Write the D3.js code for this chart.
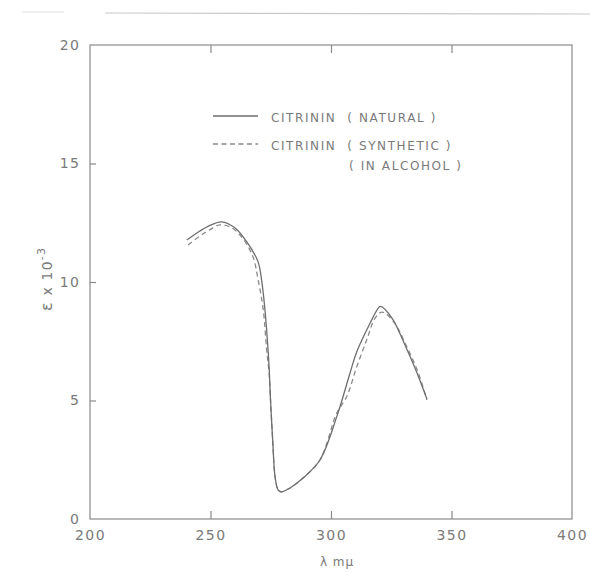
<!DOCTYPE html>
<html>
<head>
<meta charset="utf-8">
<script src="https://cdn.jsdelivr.net/npm/d3@7/dist/d3.min.js"></script>
<style>
  html, body { margin: 0; padding: 0; background: #fff; }
  svg text { font-family: "DejaVu Sans", "Liberation Sans", sans-serif; fill: #7a7a7a; }
</style>
</head>
<body>
<svg id="chart" width="590" height="573"></svg>
<script>
// Absorption spectrum of citrinin: wavelength (mμ) vs ε × 10⁻³
const naturalLambda = [240.2, 245.6, 250.0, 254.6, 260.2, 265.0, 269.7, 271.2, 272.6, 273.6, 274.3, 274.9, 275.8, 276.8, 278.1, 279.5, 283.0, 288.4, 295.4, 302.4, 307.9, 310.7, 316.2, 319.6, 320.5, 325.3, 330.7, 335.7, 339.8];
const naturalEps    = [11.77, 12.15, 12.40, 12.54, 12.28, 11.70, 10.86, 10.08, 8.82, 7.55, 6.43, 5.02, 3.33, 1.78, 1.22, 1.15, 1.31, 1.73, 2.49, 4.32, 6.16, 7.06, 8.26, 8.90, 8.97, 8.48, 7.34, 6.16, 5.06];

const syntheticLambda = [240.7, 245.6, 250.0, 253.9, 258.5, 262.9, 267.6, 269.8, 271.9, 273.3, 274.3, 274.9, 275.8, 276.8, 278.1, 279.5, 283.0, 288.4, 295.4, 302.4, 306.5, 310.7, 314.8, 318.3, 321.2, 326.1, 331.1, 336.1, 339.8];
const syntheticEps    = [11.56, 11.94, 12.22, 12.41, 12.30, 11.91, 11.07, 10.08, 8.82, 7.13, 6.20, 5.02, 3.33, 1.78, 1.22, 1.15, 1.31, 1.73, 2.49, 4.47, 5.16, 6.43, 7.55, 8.48, 8.73, 8.31, 7.34, 6.20, 5.02];

const xTicks = [200, 250, 300, 350, 400];
const yTicks = [0, 5, 10, 15, 20];
const legendLabels = ["CITRININ (NATURAL)", "CITRININ (SYNTHETIC)", "(IN ALCOHOL)"];

const svg = d3.select("#chart");
const plotL = 90, plotR = 572, plotT = 45, plotB = 519;
const ink = "#7a7a7a";

const x = d3.scaleLinear().domain([200, 400]).range([plotL, plotR]);
const y = d3.scaleLinear().domain([0, 20]).range([plotB, plotT]);

// faint paper edge along the top
svg.append("line").attr("x1", 105).attr("x2", 590).attr("y1", 13).attr("y2", 14)
  .attr("stroke", "#c8c8c8").attr("stroke-width", 1.2);
svg.append("line").attr("x1", 22).attr("x2", 64).attr("y1", 12).attr("y2", 12)
  .attr("stroke", "#e2e2e2").attr("stroke-width", 1);

// frame
svg.append("rect").attr("x", plotL).attr("y", plotT)
  .attr("width", plotR - plotL).attr("height", plotB - plotT)
  .attr("fill", "none").attr("stroke", "#8a8a8a").attr("stroke-width", 1.2);

// bottom axis with inward ticks
const xAxis = svg.append("g").attr("transform", `translate(0,${plotB})`)
  .call(d3.axisBottom(x).tickValues(xTicks).tickSizeInner(-8).tickSizeOuter(0).tickPadding(11));
// top ticks pointing down
const xTop = svg.append("g").attr("transform", `translate(0,${plotT})`)
  .call(d3.axisTop(x).tickValues(xTicks.slice(1, -1)).tickSizeInner(-8).tickSizeOuter(0).tickFormat(""));
// left axis with inward ticks
const yAxis = svg.append("g").attr("transform", `translate(${plotL},0)`)
  .call(d3.axisLeft(y).tickValues(yTicks).tickSizeInner(-6).tickSizeOuter(0).tickPadding(10));

[xAxis, xTop, yAxis].forEach(g => {
  g.select(".domain").remove();
  g.selectAll(".tick line").attr("stroke", "#8a8a8a").attr("stroke-width", 1.2);
});
xAxis.selectAll(".tick text").attr("font-size", 14).attr("letter-spacing", 1.5).attr("fill", ink);
yAxis.selectAll(".tick text").attr("font-size", 14).attr("letter-spacing", 1.2).attr("fill", ink);
// end ticks sit on the frame corners; hide their marks
xAxis.selectAll(".tick line").filter(d => d === 200 || d === 400).remove();
yAxis.selectAll(".tick line").filter(d => d === 0 || d === 20).remove();

// axis titles
svg.append("text").attr("x", 337).attr("y", 566).attr("text-anchor", "middle")
  .attr("font-size", 12).attr("letter-spacing", 1).text("λ mμ");

const yTitle = svg.append("text")
  .attr("transform", "translate(52,279) rotate(-90)")
  .attr("text-anchor", "middle").attr("font-size", 14).attr("letter-spacing", 1.2);
yTitle.append("tspan").attr("font-size", 16).text("ε");
yTitle.append("tspan").text("  x  10");
yTitle.append("tspan").attr("dy", -7).attr("font-size", 11).text("-3");

// spectra
const line = d3.line().x(d => x(d[0])).y(d => y(d[1])).curve(d3.curveCatmullRom.alpha(0.5));

svg.append("path").datum(d3.zip(syntheticLambda, syntheticEps))
  .attr("d", line).attr("fill", "none").attr("stroke", "#8a8a8a")
  .attr("stroke-width", 1.3).attr("stroke-dasharray", "5,3.5");

svg.append("path").datum(d3.zip(naturalLambda, naturalEps))
  .attr("d", line).attr("fill", "none").attr("stroke", "#6e6e6e")
  .attr("stroke-width", 1.3);

// legend
const lg = svg.append("g");
lg.append("line").attr("x1", 213).attr("x2", 258).attr("y1", 116).attr("y2", 116)
  .attr("stroke", "#6e6e6e").attr("stroke-width", 1.3);
lg.append("line").attr("x1", 213).attr("x2", 258).attr("y1", 144).attr("y2", 144)
  .attr("stroke", "#8a8a8a").attr("stroke-width", 1.3).attr("stroke-dasharray", "5,3.5");
const lgText = (txt, tx, ty) => lg.append("text").attr("x", tx).attr("y", ty)
  .attr("font-size", 12).attr("letter-spacing", 1.6).attr("xml:space", "preserve").text(txt);
lgText(legendLabels[0].replace(" (", "  ( ").replace(")", " )"), 271, 122);
lgText(legendLabels[1].replace(" (", "  ( ").replace(")", " )"), 271, 150);
lgText(legendLabels[2].replace("(", "( ").replace(")", " )"), 349, 170);
</script>
</body>
</html>
